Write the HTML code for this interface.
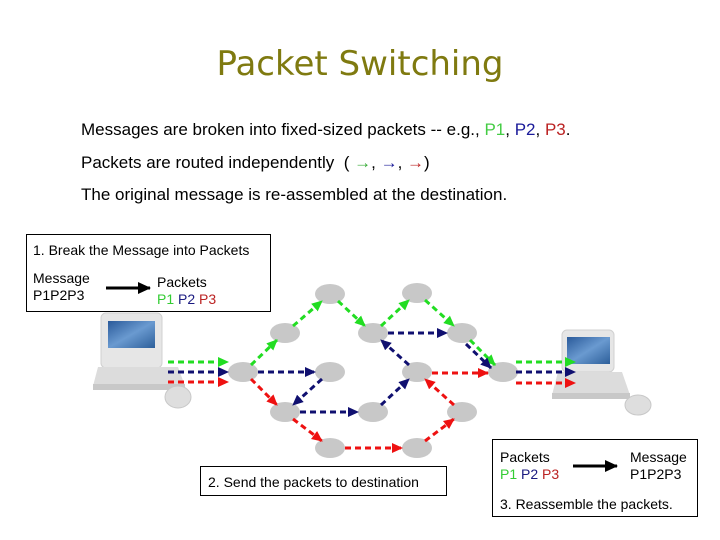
<!DOCTYPE html>
<html><head><meta charset="utf-8"><style>
html,body{margin:0;padding:0;background:#fff;}
body{width:720px;height:540px;position:relative;overflow:hidden;font-family:"Liberation Sans",sans-serif;}
.t{position:absolute;white-space:nowrap;}
.g{color:#33cc33}.b{color:#1a1a80}.r{color:#bb2222}
.box{position:absolute;border:1px solid #000;background:#fff;}
</style></head><body>
<div class="t" style="left:0;width:720px;text-align:center;top:44px;font-family:'Comic Sans MS','DejaVu Sans',sans-serif;font-size:34px;color:#7f7a10;">Packet Switching</div>
<div class="t" style="left:81px;top:120px;font-size:17px;">Messages are broken into fixed-sized packets -- e.g., <span style="color:#44cc44">P1</span>, <span style="color:#1a1a99">P2</span>, <span style="color:#bb2222">P3</span>.</div>
<div class="t" style="left:81px;top:153px;font-size:17px;">Packets are routed independently &nbsp;( <span style="color:#33aa33">→</span>, <span style="color:#1a1a99">→</span>, <span style="color:#bb2222">→</span>)</div>
<div class="t" style="left:81px;top:185px;font-size:17px;">The original message is re-assembled at the destination.</div>

<svg width="720" height="540" style="position:absolute;left:0;top:0">
<defs>
<marker id="mg" markerUnits="userSpaceOnUse" markerWidth="12" markerHeight="12" refX="10" refY="6" orient="auto"><path d="M0,1 L11,6 L0,11z" fill="#22dd22"/></marker>
<marker id="mb" markerUnits="userSpaceOnUse" markerWidth="12" markerHeight="12" refX="10" refY="6" orient="auto"><path d="M0,1 L11,6 L0,11z" fill="#101070"/></marker>
<marker id="mr" markerUnits="userSpaceOnUse" markerWidth="12" markerHeight="12" refX="10" refY="6" orient="auto"><path d="M0,1 L11,6 L0,11z" fill="#ee1111"/></marker>
<marker id="mk" markerUnits="userSpaceOnUse" markerWidth="14" markerHeight="14" refX="12" refY="7" orient="auto"><path d="M0,1 L13,7 L0,13z" fill="#000"/></marker>
<linearGradient id="scr" x1="0" y1="0" x2="1" y2="1"><stop offset="0" stop-color="#2a5a9a"/><stop offset="0.5" stop-color="#6a9ad0"/><stop offset="1" stop-color="#2d5f9a"/></linearGradient>
</defs>
<g>
<rect x="101" y="313" width="61" height="55" rx="5" fill="#e6e6e6" stroke="#d0d0d0"/>
<rect x="108" y="321" width="47" height="27" fill="url(#scr)"/>
<path d="M98,367 L178,367 L185,386 L93,386z" fill="#dcdcdc"/>
<rect x="93" y="384" width="92" height="6" fill="#c8c8c8"/>
<ellipse cx="178" cy="397" rx="13" ry="11" fill="#dedede" stroke="#c8c8c8"/>
</g>
<g>
<rect x="562" y="330" width="52" height="42" rx="5" fill="#e6e6e6" stroke="#d0d0d0"/>
<rect x="567" y="337" width="43" height="27" fill="url(#scr)"/>
<path d="M558,372 L622,372 L630,395 L552,395z" fill="#dcdcdc"/>
<rect x="552" y="393" width="78" height="6" fill="#c8c8c8"/>
<ellipse cx="638" cy="405" rx="13" ry="10" fill="#dedede" stroke="#c8c8c8"/>
</g>
<g fill="#c8c8c8">
<ellipse cx="243" cy="372" rx="15" ry="10"/>
<ellipse cx="285" cy="333" rx="15" ry="10"/>
<ellipse cx="330" cy="294" rx="15" ry="10"/>
<ellipse cx="373" cy="333" rx="15" ry="10"/>
<ellipse cx="417" cy="293" rx="15" ry="10"/>
<ellipse cx="462" cy="333" rx="15" ry="10"/>
<ellipse cx="330" cy="372" rx="15" ry="10"/>
<ellipse cx="417" cy="372" rx="15" ry="10"/>
<ellipse cx="285" cy="412" rx="15" ry="10"/>
<ellipse cx="373" cy="412" rx="15" ry="10"/>
<ellipse cx="462" cy="412" rx="15" ry="10"/>
<ellipse cx="330" cy="448" rx="15" ry="10"/>
<ellipse cx="417" cy="448" rx="15" ry="10"/>
<ellipse cx="503" cy="372" rx="15" ry="10"/>
</g>
<g stroke-width="3" stroke-dasharray="6,4" fill="none">
<g stroke="#22dd22" marker-end="url(#mg)">
<line x1="168" y1="362" x2="228" y2="362"/>
<line x1="251" y1="365" x2="277" y2="340"/>
<line x1="293" y1="326" x2="322" y2="301"/>
<line x1="338" y1="301" x2="365" y2="326"/>
<line x1="381" y1="326" x2="409" y2="300"/>
<line x1="425" y1="300" x2="454" y2="326"/>
<line x1="470" y1="340" x2="495" y2="365"/>
<line x1="516" y1="362" x2="575" y2="362"/>
</g>
<g stroke="#101070" marker-end="url(#mb)">
<line x1="168" y1="372" x2="228" y2="372"/>
<line x1="258" y1="372" x2="315" y2="372"/>
<line x1="322" y1="379" x2="293" y2="405"/>
<line x1="300" y1="412" x2="358" y2="412"/>
<line x1="381" y1="405" x2="409" y2="379"/>
<line x1="409" y1="365" x2="381" y2="340"/>
<line x1="388" y1="333" x2="447" y2="333"/>
<line x1="466" y1="344" x2="491" y2="368"/>
<line x1="516" y1="372" x2="575" y2="372"/>
</g>
<g stroke="#ee1111" marker-end="url(#mr)">
<line x1="168" y1="382" x2="228" y2="382"/>
<line x1="251" y1="379" x2="277" y2="405"/>
<line x1="293" y1="419" x2="322" y2="441"/>
<line x1="345" y1="448" x2="402" y2="448"/>
<line x1="425" y1="441" x2="454" y2="419"/>
<line x1="454" y1="405" x2="425" y2="379"/>
<line x1="432" y1="373" x2="488" y2="373"/>
<line x1="516" y1="383" x2="575" y2="383"/>
</g>
</g>
</svg>

<div class="box" style="left:26px;top:234px;width:243px;height:76px;"></div>
<div class="t" style="left:33px;top:242px;font-size:14px;">1. Break the Message into Packets</div>
<div class="t" style="left:33px;top:270px;font-size:14px;line-height:17px;">Message<br>P1P2P3</div>
<div class="t" style="left:157px;top:274px;font-size:14px;line-height:17px;">Packets<br><span class="g">P1</span> <span class="b">P2</span> <span class="r">P3</span></div>

<div class="box" style="left:200px;top:466px;width:245px;height:28px;"></div>
<div class="t" style="left:208px;top:474px;font-size:14px;">2. Send the packets to destination</div>

<div class="box" style="left:492px;top:439px;width:204px;height:76px;"></div>
<div class="t" style="left:500px;top:449px;font-size:14px;line-height:17px;">Packets<br><span class="g">P1</span> <span class="b">P2</span> <span class="r">P3</span></div>
<div class="t" style="left:630px;top:449px;font-size:14px;line-height:17px;">Message<br>P1P2P3</div>
<div class="t" style="left:500px;top:496px;font-size:14px;">3. Reassemble the packets.</div>

<svg width="720" height="540" style="position:absolute;left:0;top:0">
<line x1="106" y1="288" x2="150" y2="288" stroke="#000" stroke-width="3" marker-end="url(#mk)"/>
<line x1="573" y1="466" x2="617" y2="466" stroke="#000" stroke-width="3" marker-end="url(#mk)"/>
</svg>
</body></html>
